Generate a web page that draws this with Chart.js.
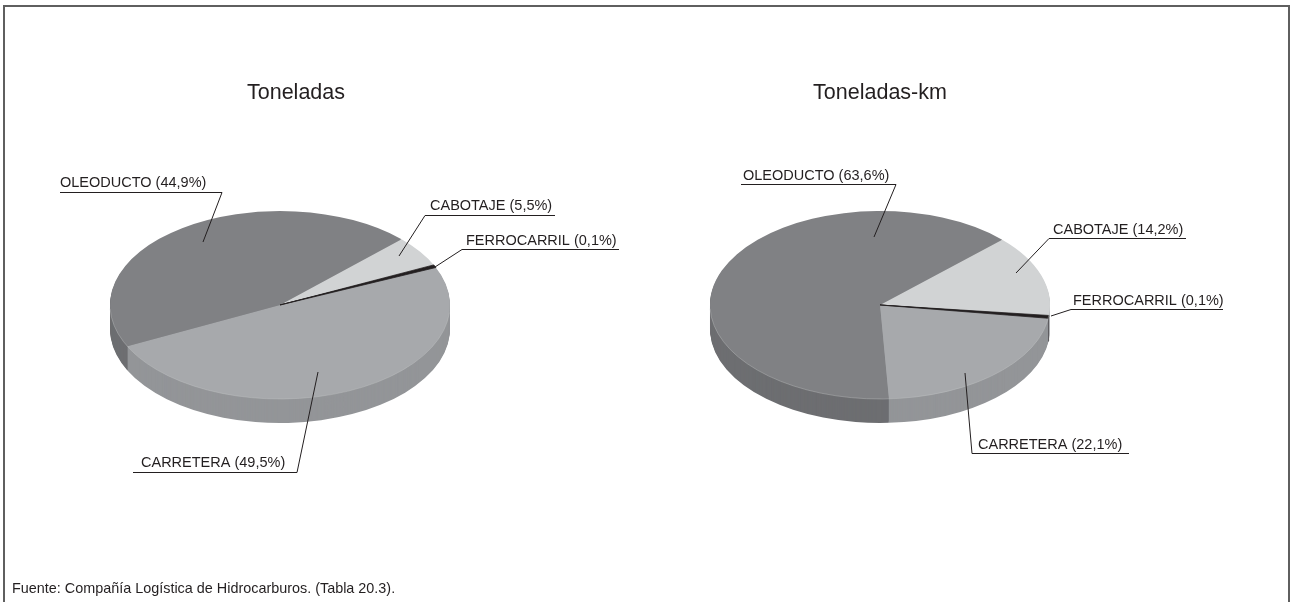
<!DOCTYPE html>
<html lang="es">
<head>
<meta charset="utf-8">
<title>Toneladas y Toneladas-km</title>
<script src="https://cdn.jsdelivr.net/npm/chart.js@4"></script>
<style>
  html, body { margin: 0; padding: 0; background: #fff; }
  #page { position: relative; width: 1290px; height: 602px; overflow: hidden; }
  #page canvas { position: absolute; left: 0; top: 0; }
  #frame { position: absolute; left: 3px; top: 5px; width: 1283px; height: 610px; border: 2px solid #5f5f5f; }
  #source { position: absolute; left: 12px; top: 580px; font: 14.4px "Liberation Sans", Arial, sans-serif; color: #231f20; white-space: nowrap; }
</style>
</head>
<body>
<div id="page">
  <div id="frame"></div>
  <canvas id="chartTons" width="1290" height="602"></canvas>
  <canvas id="chartTonKm" width="1290" height="602"></canvas>
  <div id="source">Fuente: Compañía Logística de Hidrocarburos. (Tabla 20.3).</div>
</div>
<script>
// data
const categories = ['OLEODUCTO', 'CABOTAJE', 'FERROCARRIL', 'CARRETERA'];
const tonsValues = [44.9, 5.5, 0.1, 49.5];
const tonKmValues = [63.6, 14.2, 0.1, 22.1];

const topColors = ['#808184', '#d1d3d4', '#231f20', '#a7a9ac'];
const sideColors = ['#6d6e71', '#bcbec0', '#231f20', '#939598'];
const sliceBorders = [0, 0, 1, 0];

// page layout of the two pies and their callouts: [text x, text baseline, line far end x, line y, elbow x, tip x, tip y]
const RADIUS = 170;
const SQUASH = 94 / 170;
const DEPTH = 24;
const THIN_SLICE_PAD = 0.012; // the tiny slice is drawn a bit wider, as in the original
const tonsCallouts = [
    [60, 187, 60, 192, 222, 203, 242],
    [430, 210, 555, 215, 425, 399, 256],
    [466, 245, 619, 249, 462, 435, 267],
    [141, 467, 133, 472, 297, 318, 372]
];
const tonKmCallouts = [
    [743, 180, 741, 184, 896, 874, 237],
    [1053, 234, 1186, 238, 1049, 1016, 273],
    [1073, 305, 1223, 309, 1071, 1051, 316],
    [978, 449, 1129, 453, 972, 965, 373]
];

function formatLabel(name, value) {
    return name + ' (' + value.toFixed(1).replace('.', ',') + '%)';
}

function squash(ctx, arc, shift) {
    ctx.translate(arc.x, arc.y + shift);
    ctx.scale(1, SQUASH);
    ctx.translate(-arc.x, -arc.y);
}

// flattens the pie into an ellipse and extrudes its side
const tiltPlugin = {
    id: 'tilt',
    beforeDatasetDraw(chart) {
        const ctx = chart.ctx;
        const arcs = chart.getDatasetMeta(0).data;
        for (let shift = DEPTH; shift > 0; shift--) {
            arcs.forEach((arc, i) => {
                const saved = arc.options;
                arc.options = Object.assign({}, saved, { backgroundColor: sideColors[i], borderColor: sideColors[i] });
                ctx.save();
                squash(ctx, arc, shift);
                arc.draw(ctx);
                ctx.restore();
                arc.options = saved;
            });
        }
        ctx.save();
        squash(ctx, arcs[0], 0);
    },
    afterDatasetDraw(chart) {
        const ctx = chart.ctx;
        const arcs = chart.getDatasetMeta(0).data;
        const arc = arcs[0];

        const thin = arcs[categories.indexOf('FERROCARRIL')];
        thin.startAngle -= THIN_SLICE_PAD;
        thin.endAngle += THIN_SLICE_PAD;
        thin.draw(ctx);
        thin.startAngle += THIN_SLICE_PAD;
        thin.endAngle -= THIN_SLICE_PAD;

        // pale rim along the front edge
        ctx.beginPath();
        ctx.arc(arc.x, arc.y, arc.outerRadius, 0.08, Math.PI - 0.04);
        ctx.strokeStyle = '#c4c5c7';
        ctx.lineWidth = 0.5;
        ctx.stroke();
        ctx.restore();
    }
};

// title and leader lines
const calloutPlugin = {
    id: 'callouts',
    afterDraw(chart, args, opts) {
        const ctx = chart.ctx;
        ctx.save();
        ctx.fillStyle = '#231f20';
        ctx.textBaseline = 'alphabetic';
        ctx.textAlign = 'center';
        ctx.font = '21.5px "Liberation Sans", Arial, sans-serif';
        ctx.fillText(opts.title, opts.titleX, 99);

        ctx.textAlign = 'left';
        ctx.font = '14.5px "Liberation Sans", Arial, sans-serif';
        ctx.strokeStyle = '#231f20';
        ctx.lineWidth = 1;
        opts.layout.forEach((c, i) => {
            ctx.fillText(formatLabel(chart.data.labels[i], chart.data.datasets[0].data[i]), c[0], c[1]);
            ctx.beginPath();
            ctx.moveTo(c[2], c[3] + 0.5);
            ctx.lineTo(c[4], c[3] + 0.5);
            ctx.lineTo(c[5], c[6]);
            ctx.stroke();
        });
        ctx.restore();
    }
};

function makePie(id, values, rotation, padding, title, titleX, layout) {
    return new Chart(document.getElementById(id).getContext('2d'), {
        type: 'pie',
        data: {
            labels: categories,
            datasets: [{
                data: values,
                backgroundColor: topColors,
                borderColor: topColors,
                borderWidth: sliceBorders,
                radius: RADIUS,
                clip: false
            }]
        },
        options: {
            responsive: false,
            animation: false,
            rotation: rotation,
            layout: { padding: padding },
            events: [],
            plugins: {
                legend: { display: false },
                tooltip: { enabled: false },
                callouts: { title: title, titleX: titleX, layout: layout }
            }
        },
        plugins: [tiltPlugin, calloutPlugin]
    });
}

makePie('chartTons', tonsValues, 244, { left: 110, right: 840, top: 135, bottom: 127 }, 'Toneladas', 296, tonsCallouts);
makePie('chartTonKm', tonKmValues, 177, { left: 710, right: 240, top: 135, bottom: 127 }, 'Toneladas-km', 880, tonKmCallouts);
</script>
</body>
</html>
